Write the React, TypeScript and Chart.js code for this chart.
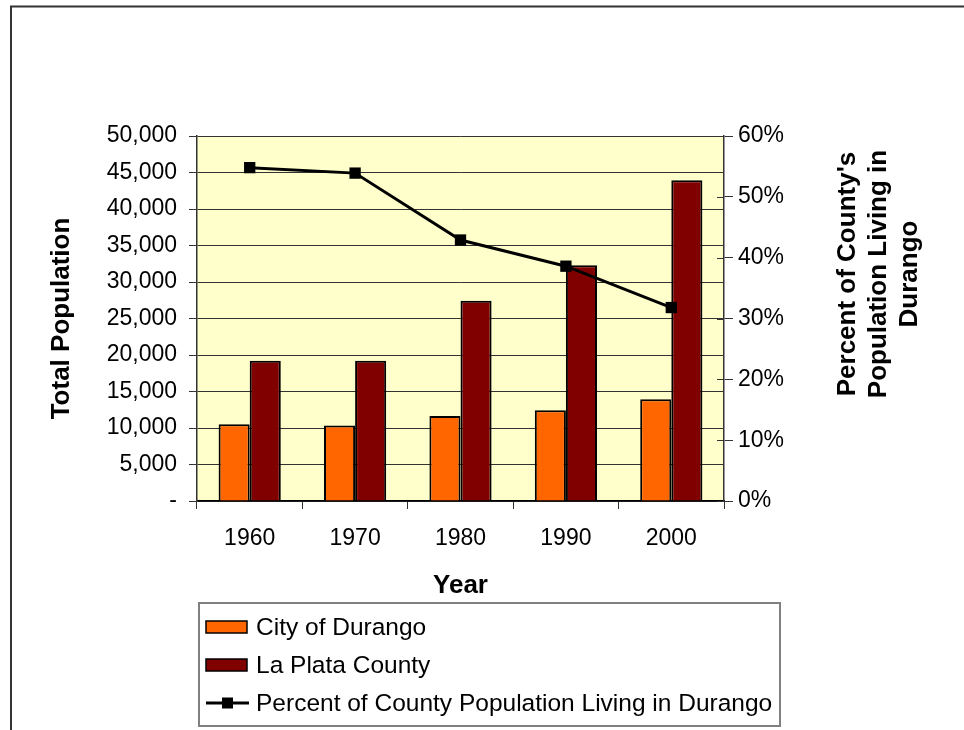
import React, { useEffect, useRef } from "react";
import { Chart, registerables } from "chart.js";

Chart.register(...registerables);

// ---- data ----
const years = ["1960", "1970", "1980", "1990", "2000"];
const cityOfDurango = [10530, 10333, 11649, 12430, 13922];
const laPlataCounty = [19225, 19199, 27424, 32284, 43941];
const percentInDurango = [54.8, 53.9, 42.9, 38.6, 31.8];
const seriesNames = [
  "City of Durango",
  "La Plata County",
  "Percent of County Population Living in Durango",
];
const leftAxisTitle = "Total Population";
const rightAxisTitle = ["Percent of County's", "Population Living in", "Durango"];
const xAxisTitle = "Year";

const FONT = "'Liberation Sans', Arial, sans-serif";
const TICK_SIZE = 23;
const TITLE_SIZE = 26;
const LEGEND_SIZE = 24.5;

const framePlugin = {
  id: "frame",
  beforeDraw(chart: any) {
    const { ctx, chartArea } = chart;
    ctx.save();
    ctx.fillStyle = "#ffffff";
    ctx.fillRect(0, 0, chart.width, chart.height);
    ctx.strokeStyle = "#333333";
    ctx.lineWidth = 2;
    ctx.strokeRect(11, 6.5, 1000, 1000);
    ctx.fillStyle = "#FFFFCC";
    ctx.fillRect(chartArea.left, chartArea.top, chartArea.right - chartArea.left, chartArea.bottom - chartArea.top);
    ctx.restore();
  },
  afterDraw(chart: any) {
    const { ctx, chartArea } = chart;
    const y1 = chart.scales.y1;
    ctx.save();
    // inward tick marks on right axis
    ctx.strokeStyle = "#333333";
    ctx.lineWidth = 1;
    y1.ticks.forEach((t: any) => {
      const py = Math.round(y1.getPixelForValue(t.value)) + 0.5;
      ctx.beginPath();
      ctx.moveTo(chartArea.right - 7, py);
      ctx.lineTo(chartArea.right, py);
      ctx.stroke();
    });

    // right axis title (rotated counter-clockwise)
    ctx.fillStyle = "#000";
    ctx.font = `bold ${TITLE_SIZE}px ${FONT}`;
    ctx.textAlign = "center";
    ctx.textBaseline = "middle";
    const xs = [848, 879, 910];
    rightAxisTitle.forEach((line, i) => {
      ctx.save();
      ctx.translate(xs[i], 274);
      ctx.rotate(-Math.PI / 2);
      ctx.fillText(line, 0, 0);
      ctx.restore();
    });

    // legend
    const bx = 199, by = 603, bw = 581, bh = 123;
    ctx.fillStyle = "#fff";
    ctx.fillRect(bx, by, bw, bh);
    ctx.strokeStyle = "#808080";
    ctx.lineWidth = 2;
    ctx.strokeRect(bx, by, bw, bh);
    const rows = [627, 665, 703];
    const ds = chart.data.datasets;
    ctx.font = `${LEGEND_SIZE}px ${FONT}`;
    ctx.textAlign = "left";
    ctx.textBaseline = "middle";
    rows.forEach((ry, i) => {
      const d = ds[i];
      if (d.type === "line") {
        ctx.strokeStyle = "#000";
        ctx.lineWidth = 3;
        ctx.beginPath();
        ctx.moveTo(206, ry);
        ctx.lineTo(249, ry);
        ctx.stroke();
        ctx.fillStyle = "#000";
        ctx.fillRect(222, ry - 5.5, 11, 11);
      } else {
        ctx.fillStyle = d.backgroundColor;
        ctx.fillRect(206, ry - 6, 41, 12);
        ctx.strokeStyle = "#000";
        ctx.lineWidth = 1.5;
        ctx.strokeRect(206, ry - 6, 41, 12);
      }
      ctx.fillStyle = "#000";
      ctx.fillText(d.label, 256, ry + 1);
    });
    ctx.restore();
  },
};

export default function App() {
  const ref = useRef<HTMLCanvasElement | null>(null);
  useEffect(() => {
    if (!ref.current) return;
    const chart = new Chart(ref.current, {
      type: "bar",
      data: {
        labels: years,
        datasets: [
          {
            type: "bar",
            label: seriesNames[0],
            data: cityOfDurango,
            backgroundColor: "#FF6600",
            borderColor: "#000000",
            borderWidth: 2,
            yAxisID: "y",
            order: 1,
            categoryPercentage: 0.59,
            barPercentage: 1.0,
          },
          {
            type: "bar",
            label: seriesNames[1],
            data: laPlataCounty,
            backgroundColor: "#800000",
            borderColor: "#000000",
            borderWidth: 2,
            yAxisID: "y",
            order: 1,
            categoryPercentage: 0.59,
            barPercentage: 1.0,
          },
          {
            type: "line",
            label: seriesNames[2],
            data: percentInDurango,
            borderColor: "#000000",
            borderWidth: 3,
            backgroundColor: "#000000",
            pointStyle: "rect",
            pointRadius: 8,
            pointBorderWidth: 0,
            pointBackgroundColor: "#000000",
            yAxisID: "y1",
            order: 0,
            tension: 0,
          } as any,
        ],
      },
      options: {
        responsive: false,
        animation: false,
        events: [],
        layout: { padding: { top: 136, left: 0, right: 0, bottom: 0 } },
        plugins: { legend: { display: false }, tooltip: { enabled: false } },
        scales: {
          x: {
            offset: true,
            grid: { offset: true, drawOnChartArea: false, drawTicks: true, tickLength: 8, color: "#333333", lineWidth: 1 },
            border: { display: true, color: "#000000", width: 1.5 },
            ticks: { color: "#000", font: { family: FONT, size: TICK_SIZE }, padding: 16, maxRotation: 0, autoSkip: false },
            title: {
              display: true,
              text: xAxisTitle,
              color: "#000",
              font: { family: FONT, size: TITLE_SIZE, weight: "bold" },
              padding: { top: 0, bottom: 129 },
            },
            afterFit: (s: any) => { s.height = 229; },
          },
          y: {
            position: "left",
            min: 0,
            max: 50000,
            grid: { drawOnChartArea: true, drawTicks: true, tickLength: 8, color: "#333333", lineWidth: 1 },
            border: { display: true, color: "#333333", width: 1.5 },
            ticks: {
              stepSize: 5000,
              color: "#000",
              padding: 12,
              font: { family: FONT, size: TICK_SIZE },
              callback: (v: any) => (v === 0 ? "-" : Number(v).toLocaleString("en-US")),
            },
            title: {
              display: true,
              text: leftAxisTitle,
              color: "#000",
              font: { family: FONT, size: TITLE_SIZE, weight: "bold" },
              padding: { top: 46, bottom: 0 },
            },
            afterFit: (s: any) => { s.width = 197; },
          },
          y1: {
            position: "right",
            min: 0,
            max: 60,
            grid: { drawOnChartArea: false, drawTicks: true, tickLength: 9, color: "#333333", lineWidth: 1 },
            border: { display: true, color: "#333333", width: 1.5 },
            ticks: {
              stepSize: 10,
              color: "#000",
              padding: 5,
              font: { family: FONT, size: TICK_SIZE },
              callback: (v: any) => `${v}%`,
            },
            afterFit: (s: any) => { s.width = 240; },
          },
        },
      },
      plugins: [framePlugin],
    });
    return () => chart.destroy();
  }, []);

  return (
    <div style={{ position: "fixed", left: 0, top: 0, width: 964, height: 730, background: "#fff" }}>
      <canvas ref={ref} width={964} height={730} style={{ display: "block" }} />
    </div>
  );
}
